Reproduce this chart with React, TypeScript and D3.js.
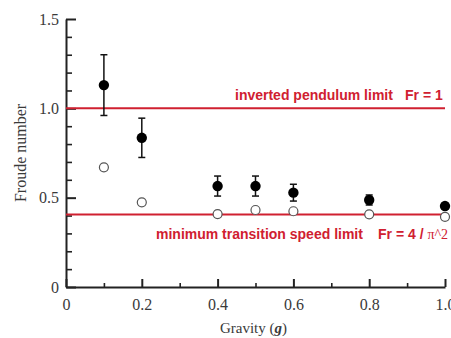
import React, { useRef, useEffect } from "react";
import * as d3 from "d3";

// gravity levels (g)
const gravity = [0.1, 0.2, 0.4, 0.5, 0.6, 0.8, 1.0];
// filled markers: measured Froude number with error bars
const frMeasured = [1.13, 0.835, 0.565, 0.565, 0.528, 0.487, 0.453];
const frError = [0.17, 0.11, 0.056, 0.056, 0.047, 0.028, 0.015];
// open markers
const frTransition = [0.67, 0.474, 0.408, 0.431, 0.424, 0.407, 0.393];
// tick labels
const xTicks = [0, 0.2, 0.4, 0.6, 0.8, 1.0];
const xMinor = [0.1, 0.3, 0.5, 0.7, 0.9];
const yTicks = [0, 0.5, 1.0, 1.5];
const yMinor = [0.1, 0.2, 0.3, 0.4, 0.6, 0.7, 0.8, 0.9, 1.1, 1.2, 1.3, 1.4];
// reference lines
const pendulumLimit = 1;
const transitionLimit = 4 / (Math.PI * Math.PI);

const W = 451;
const H = 338;
const margin = { top: 19, right: 6, bottom: 51, left: 66 };
const RED = "#d02030";

function App() {
  const svgRef = useRef(null);

  useEffect(() => {
    const svg = d3.select(svgRef.current);
    svg.selectAll("*").remove();

    const x = d3.scaleLinear().domain([0, 1]).range([margin.left, W - margin.right]);
    const y = d3.scaleLinear().domain([0, 1.5]).range([H - margin.bottom, margin.top]);

    // minor ticks (inward)
    svg.append("g")
      .attr("transform", `translate(${margin.left},0)`)
      .call(d3.axisLeft(y).tickValues(yMinor).tickSize(-6).tickFormat(() => ""))
      .call((g) => g.select(".domain").remove())
      .selectAll("line").attr("stroke", "#222").attr("stroke-width", 1.6);
    svg.append("g")
      .attr("transform", `translate(0,${H - margin.bottom})`)
      .call(d3.axisBottom(x).tickValues(xMinor).tickSize(-4).tickFormat(() => ""))
      .call((g) => g.select(".domain").remove())
      .selectAll("line").attr("stroke", "#222").attr("stroke-width", 1.6);

    // major axes
    const yAxis = svg.append("g")
      .attr("transform", `translate(${margin.left},0)`)
      .call(
        d3.axisLeft(y)
          .tickValues(yTicks)
          .tickSizeInner(-10)
          .tickSizeOuter(0)
          .tickPadding(7)
          .tickFormat((d) => (d === 0 ? "0" : d3.format(".1f")(d)))
      );
    const xAxis = svg.append("g")
      .attr("transform", `translate(0,${H - margin.bottom})`)
      .call(
        d3.axisBottom(x)
          .tickValues(xTicks)
          .tickSizeInner(-8)
          .tickSizeOuter(0)
          .tickPadding(12)
          .tickFormat((d) => (d === 0 ? "0" : d3.format(".1f")(d)))
      );
    [yAxis, xAxis].forEach((g) => {
      g.select(".domain").attr("stroke", "#222").attr("stroke-width", 2);
      g.selectAll("line").attr("stroke", "#222").attr("stroke-width", 2);
      g.selectAll("text")
        .attr("fill", "#3a3a3a")
        .style("font-family", "'Liberation Serif', 'DejaVu Serif', serif")
        .style("font-size", "16px");
    });

    // reference lines
    [pendulumLimit, transitionLimit].forEach((v) => {
      svg.append("line")
        .attr("x1", x(0)).attr("x2", x(1))
        .attr("y1", y(v)).attr("y2", y(v))
        .attr("stroke", RED).attr("stroke-width", 2);
    });

    const labelFont = "'Liberation Sans', Arial, sans-serif";
    const addLabel = (tx, ty, str) =>
      svg.append("text")
        .attr("x", tx).attr("y", ty)
        .attr("fill", RED).attr("font-weight", "bold").attr("font-size", 14)
        .style("font-family", labelFont)
        .text(str);
    addLabel(235, y(pendulumLimit) - 8, "inverted pendulum limit");
    addLabel(405, y(pendulumLimit) - 8, "Fr = 1");
    addLabel(156, y(transitionLimit) + 24, "minimum transition speed limit");
    const t2 = svg.append("text")
      .attr("x", 378).attr("y", y(transitionLimit) + 24)
      .attr("fill", RED).attr("font-size", 14)
      .style("font-family", labelFont);
    t2.append("tspan").attr("font-weight", "bold").text("Fr = 4 / ");
    t2.append("tspan").style("font-family", "'Liberation Serif', serif").text("\u03c0^2");

    // error bars
    const err = svg.append("g").attr("stroke", "#111").attr("stroke-width", 1.5);
    gravity.forEach((g, i) => {
      const top = y(frMeasured[i] + frError[i]);
      const bot = y(frMeasured[i] - frError[i]);
      err.append("line").attr("x1", x(g)).attr("x2", x(g)).attr("y1", top).attr("y2", bot);
      err.append("line").attr("x1", x(g) - 3.5).attr("x2", x(g) + 3.5).attr("y1", top).attr("y2", top);
      err.append("line").attr("x1", x(g) - 3.5).attr("x2", x(g) + 3.5).attr("y1", bot).attr("y2", bot);
    });

    // open circles
    svg.append("g")
      .selectAll("circle")
      .data(gravity)
      .join("circle")
      .attr("cx", (d) => x(d))
      .attr("cy", (d, i) => y(frTransition[i]))
      .attr("r", 4.5)
      .attr("fill", "white")
      .attr("stroke", "#555")
      .attr("stroke-width", 1.2);

    // filled circles
    svg.append("g")
      .selectAll("circle")
      .data(gravity)
      .join("circle")
      .attr("cx", (d) => x(d))
      .attr("cy", (d, i) => y(frMeasured[i]))
      .attr("r", 5.2)
      .attr("fill", "#000");

    // axis titles
    const title = svg.append("text")
      .attr("x", (margin.left + W - margin.right) / 2 - 2)
      .attr("y", 333)
      .attr("text-anchor", "middle")
      .attr("fill", "#3a3a3a")
      .style("font-family", "'Liberation Serif', serif")
      .style("font-size", "15px");
    title.append("tspan").text("Gravity (");
    title.append("tspan").attr("font-weight", "bold").attr("font-style", "italic").text("g");
    title.append("tspan").text(")");

    svg.append("text")
      .attr("transform", `translate(26,${(margin.top + H - margin.bottom) / 2}) rotate(-90)`)
      .attr("text-anchor", "middle")
      .attr("fill", "#3a3a3a")
      .style("font-family", "'Liberation Serif', serif")
      .style("font-size", "16px")
      .text("Froude number");
  }, []);

  return (
    <svg
      ref={svgRef}
      width={W}
      height={H}
      style={{ position: "absolute", left: 0, top: 0, background: "white" }}
    />
  );
}

export default App;
